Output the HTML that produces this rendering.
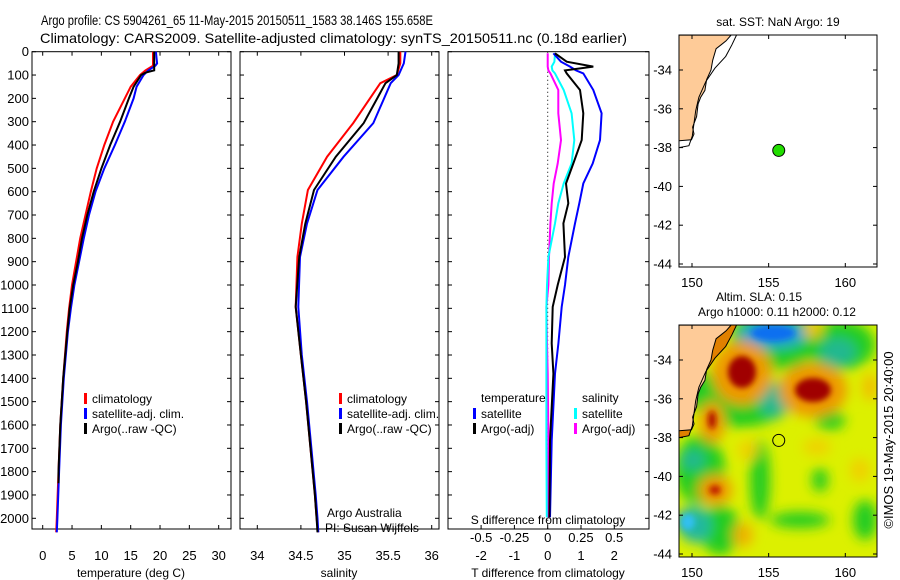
<!DOCTYPE html>
<html><head><meta charset="utf-8"><style>
body{margin:0;background:#fff;}
svg{display:block;font-family:"Liberation Sans",sans-serif;}
</style></head><body>
<svg id="fig" width="900" height="580" viewBox="0 0 900 580" xmlns="http://www.w3.org/2000/svg">
<defs>
<filter id="blur" x="-50%" y="-50%" width="200%" height="200%"><feGaussianBlur stdDeviation="6"/></filter>
<filter id="blur2" x="-50%" y="-50%" width="200%" height="200%"><feGaussianBlur stdDeviation="3"/></filter>
<clipPath id="clipLow"><rect x="679" y="325" width="198" height="232"/></clipPath>
<clipPath id="clipUp"><rect x="679" y="35" width="198" height="232"/></clipPath>
</defs>
<text x="41" y="25" font-size="14" textLength="392" lengthAdjust="spacingAndGlyphs">Argo profile: CS 5904261_65 11-May-2015 20150511_1583 38.146S 155.658E</text>
<text x="40" y="43" font-size="14" textLength="587" lengthAdjust="spacingAndGlyphs">Climatology: CARS2009. Satellite-adjusted climatology: synTS_20150511.nc (0.18d earlier)</text>
</svg>
<script>
// ---- data ----
const depthTicks=[0,100,200,300,400,500,600,700,800,900,1000,1100,1200,1300,1400,1500,1600,1700,1800,1900,2000];
const tempTicks=[0,5,10,15,20,25,30];
const salTicks=[34,34.5,35,35.5,36];
const tdiffTicks=[-2,-1,0,1,2];
const sdiffTicks=[-0.5,-0.25,0,0.25,0.5];
const sdiffLabels=["-0.5","-0.25","0","0.25","0.5"];
const lonTicks=[150,155,160];
const latTicks=[-34,-36,-38,-40,-42,-44];

const tClimDepth=[0,50,60,80,100,150,200,300,400,500,600,700,800,900,1000,1100,1200,1400,1600,1800,2000,2060];
const tClim=[18.8,18.8,18.8,17.5,16.6,15.0,14.0,12.0,10.5,9.2,8.2,7.3,6.4,5.7,5.0,4.5,4.1,3.5,3.0,2.7,2.4,2.3];
const tSat=[19.3,19.5,19.2,18.0,17.2,16.0,15.5,14.0,12.3,10.5,9.0,7.9,7.0,6.2,5.4,4.8,4.3,3.6,3.1,2.8,2.5,2.4];
const tArgoDepth=[0,50,60,80,90,100,150,200,300,400,500,600,700,800,900,1000,1100,1200,1400,1600,1800,1850];
const tArgo=[19.0,19.0,19.0,19.0,17.5,16.8,15.5,14.7,13.2,11.5,10.0,8.7,7.6,6.7,6.0,5.2,4.6,4.2,3.5,3.0,2.7,2.7];

const sDepth=[0,50,100,135,306,450,593,737,880,1094,1300,1500,1700,1900,2000,2060];
const sClim=[35.64,35.64,35.60,35.41,35.10,34.80,34.58,34.51,34.46,34.44,34.50,34.56,34.61,34.66,34.68,34.70];
const sSat=[35.70,35.68,35.62,35.53,35.33,34.99,34.69,34.57,34.49,34.47,34.51,34.57,34.62,34.67,34.69,34.70];
const sArgo=[35.62,35.62,35.60,35.47,35.22,34.90,34.65,34.55,34.48,34.44,34.50,34.56,34.61,34.66,34.68,34.69];

const dDepth=[7,43,64,80,93,164,264,379,479,565,650,736,880,1000,1094,1250,1380,1667,1996];
const dTSat=[0.17,0.40,0.67,0.85,1.07,1.37,1.62,1.57,1.35,1.07,0.95,0.82,0.62,0.52,0.42,0.32,0.22,0.12,0.07];
const dTArgo=[0.22,0.57,1.37,0.52,0.57,0.97,1.07,1.02,0.77,0.55,0.62,0.47,0.52,0.30,0.15,0.12,0.17,0.07,0.05];
const dSSat=[0.055,0.05,0.03,0.035,0.055,0.12,0.18,0.20,0.18,0.12,0.08,0.055,0.005,-0.005,-0.01,-0.01,-0.01,-0.01,-0.007];
const dSArgo=[0.0,0.0,0.0,0.005,0.02,0.08,0.08,0.10,0.075,0.045,0.03,0.02,0.01,0.005,-0.01,-0.005,0.0,0.005,0.005];

const floatLon=155.658, floatLat=-38.146;
const coastLon=[149.15,152.55,152.22,151.9,151.57,151.35,151.24,150.95,150.84,150.57,150.4,150.3,150.04,150.13,149.97,149.15];
const coastLat=[-32.2,-32.2,-32.5,-32.7,-32.9,-33.5,-34.0,-34.5,-35.05,-35.4,-35.75,-36.4,-36.95,-37.3,-37.6,-37.65];
const shelfLon=[152.9,152.6,152.2,151.5,150.9,150.45,150.24,150.13,150.02,149.8,149.15];
const shelfLat=[-32.2,-32.7,-33.3,-33.9,-34.6,-35.4,-36.1,-36.75,-37.4,-37.9,-38.0];

// ---- helpers ----
const svg=document.getElementById('fig');
const NS='http://www.w3.org/2000/svg';
function el(tag,attrs,parent){const e=document.createElementNS(NS,tag);for(const k in attrs)e.setAttribute(k,attrs[k]);(parent||svg).appendChild(e);return e;}
function txt(x,y,s,size,anchor,parent){const t=el('text',{x:x,y:y,'font-size':size||12,'text-anchor':anchor||'start'},parent);t.textContent=s;return t;}

const TOP=51.7, BOT=529, DSC=0.2333;
const yD=d=>TOP+d*DSC;
const xT=t=>42.7+t*5.866;
const xS=s=>257.3+(s-34)*87.2;
const xTd=t=>547.7+t*33.3;
const xSd=s=>547.7+s*133;
const xLon=l=>692+(l-150)*15.33;
const yLatU=l=>70+(-34-l)*19.4;
const yLatL=l=>360+(-34-l)*19.4;

function frame(x0,x1,name,yLabels){
  const g=el('g',{});
  
  
  el('rect',{x:x0,y:TOP,width:x1-x0,height:BOT-TOP,fill:'#fff',stroke:'#000','stroke-width':1},g);
  depthTicks.forEach(d=>{
    const y=yD(d);
    el('line',{x1:x0,x2:x0+4,y1:y,y2:y,stroke:'#000'},g);
    el('line',{x1:x1-4,x2:x1,y1:y,y2:y,stroke:'#000'},g);
    if(yLabels){const t=txt(x0-3,y+4.5,String(d),13,'end',g);}
  });
  return g;
}
function xticks(g,ticks,fx,labels,ly,top){
  ticks.forEach((v,i)=>{
    const x=fx(v);
    el('line',{x1:x,x2:x,y1:BOT,y2:BOT-4,stroke:'#000'},g);
    if(top) el('line',{x1:x,x2:x,y1:TOP,y2:TOP+4,stroke:'#000'},g);
    const t=txt(x,ly,labels?labels[i]:String(v),13,'middle',g);
    
    
  });
}
function line(g,xs,ys,fx,color,name,w){
  const pts=xs.map((v,i)=>fx(v).toFixed(1)+','+yD(ys[i]).toFixed(1)).join(' ');
  const p=el('polyline',{points:pts,fill:'none',stroke:color,'stroke-width':w||2},g);
  
  
}
function legend(g,x,y,color,label,name){
  const r=el('rect',{x:x,y:y-10,width:3,height:11,fill:color},g);
  const t=txt(x+8,y,label,12,'start',g);
  
  
}

// ---- panel 1 temperature ----
const g1=frame(32,231,'temperature-panel',true);
xticks(g1,tempTicks,xT,null,560,true);
line(g1,tClim,tClimDepth,xT,'#ff0000','temp-climatology-line');
line(g1,tSat,tClimDepth,xT,'#0000ff','temp-satellite-line');
line(g1,tArgo,tArgoDepth,xT,'#000000','temp-argo-line');
legend(g1,84,403,'#ff0000','climatology','legend-climatology');
legend(g1,84,418,'#0000ff','satellite-adj. clim.','legend-satellite');
legend(g1,84,433,'#000000','Argo(..raw -QC)','legend-argo');
let t=txt(131,577,'temperature (deg C)',12,'middle',g1);

// ---- panel 2 salinity ----
const g2=frame(240,439,'salinity-panel',false);
xticks(g2,salTicks,xS,null,560,true);
line(g2,sClim,sDepth,xS,'#ff0000','sal-climatology-line');
line(g2,sSat,sDepth,xS,'#0000ff','sal-satellite-line');
line(g2,sArgo,sDepth,xS,'#000000','sal-argo-line');
legend(g2,339,403,'#ff0000','climatology','legend-climatology');
legend(g2,339,418,'#0000ff','satellite-adj. clim.','legend-satellite');
legend(g2,339,433,'#000000','Argo(..raw -QC)','legend-argo');
t=txt(327,517,'Argo Australia',12,'start',g2);
t=txt(325,532,'PI: Susan Wijffels',12,'start',g2);
t=txt(339,577,'salinity',12,'middle',g2);

// ---- panel 3 differences ----
const g3=frame(448,649,'difference-panel',false);
el('line',{x1:xTd(0),x2:xTd(0),y1:TOP,y2:BOT,stroke:'#000','stroke-dasharray':'1,3'},g3);
xticks(g3,tdiffTicks,xTd,null,560,false);
sdiffTicks.forEach((v,i)=>{const tt=txt(xSd(v),542,sdiffLabels[i],13,'middle',g3);});
t=txt(548,524,'S difference from climatology',12,'middle',g3);
line(g3,dSArgo,dDepth,xSd,'#ff00ff','sdiff-argo-line');
line(g3,dSSat,dDepth,xSd,'#00ffff','sdiff-satellite-line');
line(g3,dTSat,dDepth,xTd,'#0000ff','tdiff-satellite-line');
line(g3,dTArgo,dDepth,xTd,'#000000','tdiff-argo-line');
t=txt(481,402,'temperature',12,'start',g3);
t=txt(582,402,'salinity',12,'start',g3);
legend(g3,473,418,'#0000ff','satellite','legend-t-satellite');
legend(g3,473,433,'#000000','Argo(-adj)','legend-t-argo');
legend(g3,574,418,'#00ffff','satellite','legend-s-satellite');
legend(g3,574,433,'#ff00ff','Argo(-adj)','legend-s-argo');
t=txt(548,577,'T difference from climatology',12,'middle',g3);

// ---- maps ----
function poly(lons,lats,fy){return lons.map((v,i)=>xLon(v).toFixed(1)+','+fy(lats[i]).toFixed(1)).join(' ');}
function mapAxes(g,top,fy,labelY){
  lonTicks.forEach(l=>{const x=xLon(l);
    el('line',{x1:x,x2:x,y1:top,y2:top+4,stroke:'#000'},g);el('line',{x1:x,x2:x,y1:top+232,y2:top+228,stroke:'#000'},g);
    const tt=txt(x,labelY,String(l),13,'middle',g);});
  latTicks.forEach(l=>{const y=fy(l);
    el('line',{x1:679,x2:683,y1:y,y2:y,stroke:'#000'},g);el('line',{x1:873,x2:877,y1:y,y2:y,stroke:'#000'},g);
    const tt=txt(672,y+4.5,String(l),13,'end',g);});
  el('rect',{x:679,y:top,width:198,height:232,fill:'none',stroke:'#000'},g);
}
// upper map
const gu=el('g',{});


el('rect',{x:679,y:35,width:198,height:232,fill:'#fff'},gu);
const gclipU=el('g',{'clip-path':'url(#clipUp)'},gu);
el('polygon',{points:poly(coastLon,coastLat,yLatU),fill:'#fecb98',stroke:'#000','stroke-width':1},gclipU);
el('polyline',{points:poly(shelfLon,shelfLat,yLatU),fill:'none',stroke:'#000','stroke-width':1},gclipU);
const dot=el('circle',{cx:xLon(floatLon),cy:yLatU(floatLat),r:6,fill:'#22dd00',stroke:'#000','stroke-width':1},gu);


mapAxes(gu,35,yLatU,287);
t=txt(778,26,'sat. SST: NaN Argo: 19',12,'middle',gu);

// lower map (SLA)
const gl=el('g',{});


const gclip=el('g',{'clip-path':'url(#clipLow)'},gl);
el('rect',{x:679,y:325,width:198,height:232,fill:'#dcf000'},gclip);
const gb=el('g',{filter:'url(#blur)'},gclip);
const blobs=[
 ['#22cc22',740,405,45,22],['#22cc22',700,470,25,35],['#22cc22',840,345,35,25],['#22cc22',775,340,45,30],['#22cc22',760,480,10,40],['#22cc22',720,530,20,25],['#22cc22',830,420,15,10],['#22cc22',820,480,8,12],['#22cc22',865,520,12,20],['#22cc22',800,520,30,8],['#22cc22',700,390,15,20],
 ['#20b890',775,400,16,18],['#20b890',838,352,18,14],['#20b890',693,460,12,10],['#20a0d0',773,334,34,14],['#1e90e0',690,522,14,14],['#20b8a0',695,525,16,18],
 ['#ee9900',742,373,30,32],['#ee9900',813,390,34,27],['#ee9900',712,422,13,21],['#ee9900',715,490,17,15],['#f0c000',813,330,10,8],['#f0b000',743,535,10,12],['#f0c000',870,387,8,14],['#f0d000',817,447,14,8],['#f0d000',748,450,10,10],['#f0d000',860,470,10,12]
];
blobs.forEach(b=>el('ellipse',{cx:b[1],cy:b[2],rx:b[3],ry:b[4],fill:b[0]},gb));
const gb2=el('g',{filter:'url(#blur2)'},gclip);
[['#a00000',742,372,14,16],['#a00000',813,390,18,12],['#b01000',712,420,4,9],['#c02000',715,490,6,5],['#1070f0',773,333,22,8],['#30c0f0',688,522,7,8]].forEach(b=>el('ellipse',{cx:b[1],cy:b[2],rx:b[3],ry:b[4],fill:b[0]},gb2));
el('polygon',{points:poly(shelfLon.concat([149.15,149.15]),shelfLat.concat([-32.2,-32.2]),yLatL),fill:'#e08000'},gclip);
el('polygon',{points:poly(coastLon,coastLat,yLatL),fill:'#fecb98',stroke:'#000','stroke-width':1},gclip);
el('polyline',{points:poly(shelfLon,shelfLat,yLatL),fill:'none',stroke:'#000','stroke-width':1},gclip);
const ring=el('circle',{cx:xLon(floatLon),cy:yLatL(floatLat),r:6,fill:'none',stroke:'#000','stroke-width':1},gl);


mapAxes(gl,325,yLatL,577);
t=txt(759,301,'Altim. SLA: 0.15',12,'middle',gl);
t=txt(777,316,'Argo h1000: 0.11 h2000: 0.12',12,'middle',gl);
t=el('text',{x:0,y:0,'font-size':13,'text-anchor':'middle',transform:'translate(893,440) rotate(-90)'});
t.textContent='©IMOS 19-May-2015 20:40:00';


</script>
</body></html>
